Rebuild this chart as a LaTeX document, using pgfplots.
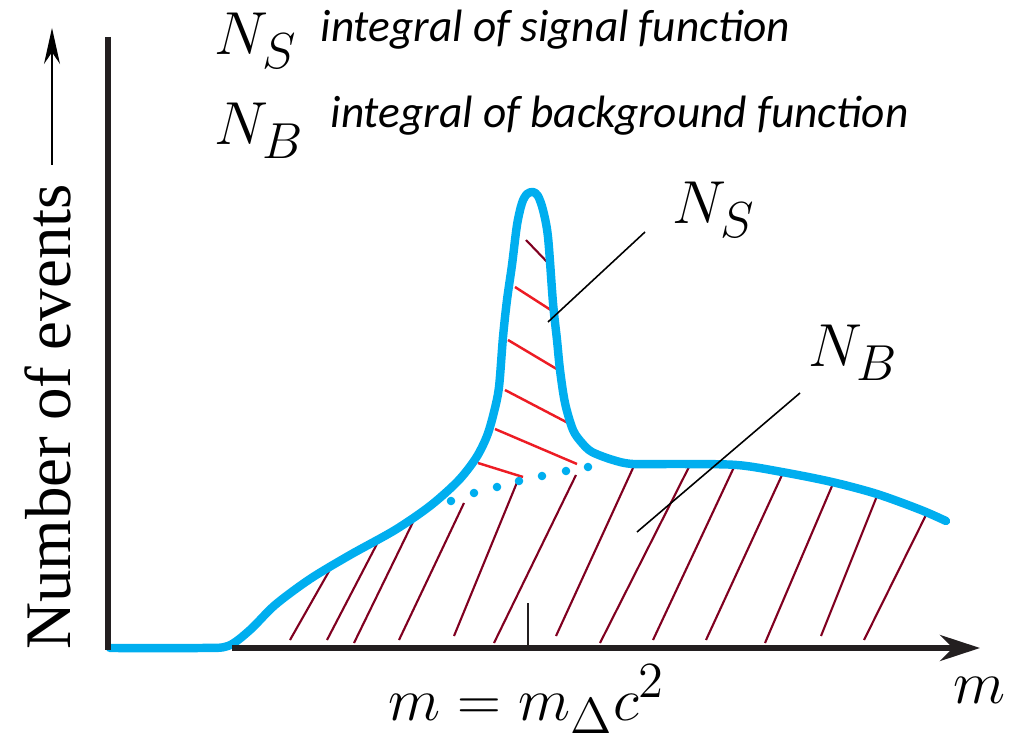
\documentclass[border=0pt]{standalone}
\usepackage{pgfplots}
\pgfplotsset{compat=1.18}
\usepackage{fontspec}
\setmainfont{Liberation Serif}
\newfontfamily\calfont{Carlito}
\usetikzlibrary{arrows.meta}
\definecolor{cy}{RGB}{0,174,239}
\definecolor{hr}{RGB}{237,28,36}
\definecolor{dr}{RGB}{128,0,32}
\definecolor{axc}{RGB}{35,31,32}
\begin{document}
\begin{tikzpicture}
\begin{axis}[name=ax, scale only axis, width=101.3mm, height=73.9mm,
  xmin=0, xmax=1013, ymin=0, ymax=739, y dir=reverse, hide axis, clip=false,
  unbounded coords=jump]
% background hatching (dark red)
\addplot[dr, line width=0.6pt] coordinates {
(290,640) (332,566) (nan,nan)
(327,640) (379,540) (nan,nan)
(354,643) (414,520) (nan,nan)
(399,640) (464,503) (nan,nan)
(454,636) (518,480) (nan,nan)
(494,643) (576,475) (nan,nan)
(556,636) (633,468) (nan,nan)
(600,643) (690,465) (nan,nan)
(653,640) (735,465) (nan,nan)
(706,640) (782,475) (nan,nan)
(765,643) (832,486) (nan,nan)
(821,636) (877,496) (nan,nan)
(864,640) (926,515)
};
% signal hatching (red)
\addplot[dr, line width=0.6pt] coordinates {(526,240) (550,265)};
\addplot[hr, line width=0.7pt] coordinates {
(515,287) (557,314) (nan,nan)
(508,340) (560,371) (nan,nan)
(505,390) (570,424) (nan,nan)
(495,429) (577,464) (nan,nan)
(478,463) (523,477)
};
% dotted background continuation
\addplot[only marks, mark=*, mark size=1pt, color=cy] coordinates {
(451,501) (474,493) (497,487) (519,481) (542,476) (566,471) (588,467)
};
% main curve
\addplot[cy, line width=2.4pt, smooth, tension=0.5, line cap=round, line join=round] coordinates {
(110,648) (200,648) (228,646) (250,630) (275,605) (310,579) (350,555) (395,530)
(430,506) (458,481) (476,458) (487,436) (494,412)
(499,387) (503,337) (507,300) (512,265) (517,225) (522,203) (527,194) (533,192)
(538,196) (543,210) (548,237) (553,303) (557,340) (560,370) (565,403) (573,430)
(582,443) (592,452) (613,460) (633,464) (680,464) (737,465) (782,472) (832,482)
(877,494) (921,510) (946,521)
};
% axes
\draw[axc, line width=1.5pt] (axis cs:108,37) -- (axis cs:108,650);
\draw[axc, line width=1.6pt, -{Stealth[length=4mm, width=2.6mm]}] (axis cs:232,648) -- (axis cs:980,648);
\draw[axc, line width=0.5pt] (axis cs:528,603) -- (axis cs:528,648);
\draw[black, line width=0.45pt, -{Stealth[length=3.6mm, width=1.6mm]}] (axis cs:52,165) -- (axis cs:52,28);
% pointers
\draw[black, line width=0.45pt] (axis cs:548,322) -- (axis cs:645,232);
\draw[black, line width=0.45pt] (axis cs:637,532) -- (axis cs:800,393);
% texts
\node[anchor=base, rotate=90, inner sep=0pt, font=\fontsize{18.5}{20}\selectfont] at (axis cs:71,417) {Number of events};
\node[anchor=base west, inner sep=0pt, font=\fontsize{19}{20}\selectfont] at (axis cs:214,55) {$N_S$};
\node[anchor=base west, inner sep=0pt, font=\fontsize{19}{20}\selectfont] at (axis cs:214,145) {$N_B$};
\node[anchor=base west, inner sep=0pt, font=\calfont\itshape\fontsize{12.9}{14}\selectfont] at (axis cs:320,42) {integral of signal function};
\node[anchor=base west, inner sep=0pt, font=\calfont\itshape\fontsize{12.9}{14}\selectfont] at (axis cs:330,128) {integral of background function};
\node[anchor=base west, inner sep=0pt, font=\fontsize{19}{20}\selectfont] at (axis cs:672,224) {$N_S$};
\node[anchor=base west, inner sep=0pt, font=\fontsize{19}{20}\selectfont] at (axis cs:808,367) {$N_B$};
\node[anchor=base west, inner sep=0pt, font=\fontsize{19}{20}\selectfont] at (axis cs:388,720) {$m = m_\Delta c^2$};
\node[anchor=base west, inner sep=0pt, font=\fontsize{19}{20}\selectfont] at (axis cs:953,703) {$m$};
\end{axis}
\pgfresetboundingbox
\path[use as bounding box] (ax.south west) rectangle (ax.north east);
\end{tikzpicture}
\end{document}
